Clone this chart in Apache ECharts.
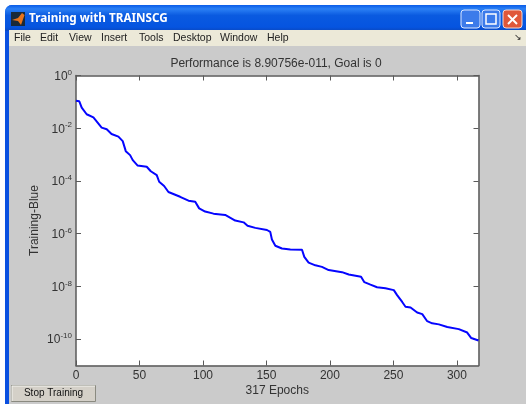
<!DOCTYPE html>
<html><head><meta charset="utf-8">
<style>html,body{margin:0;padding:0;background:#fff}#c{width:526px;height:404px}</style>
<script src="https://cdn.jsdelivr.net/npm/echarts@6/dist/echarts.min.js"></script>
</head><body><div id="c"></div>
<script>
const epochs = [0,2.6,4.5,8.4,13.7,20.2,24.2,28,33.4,36.8,39.2,42.6,44.7,48.4,55.7,58.9,63.6,65.5,69.4,72.8,82,88.6,93.9,97,101.7,108.3,117.5,125.4,132,135.1,141.2,150.4,153,154.3,157,162.2,168.8,178,179.8,183.2,188.5,193.7,199,209.5,214.8,224.5,227.1,231.9,237.1,243.7,250.3,252.9,256.9,259.5,263.5,268.7,272.7,276.6,280.5,285.8,292.4,301.5,308.1,311.3,317];
const performance_ = [1.11e-1,1.05e-1,6.03e-2,3.39e-2,2.57e-2,1.05e-2,9.12e-3,6.03e-3,4.79e-3,3.24e-3,1.35e-3,9.55e-4,6.17e-4,3.89e-4,3.47e-4,2.34e-4,1.66e-4,9.33e-5,6.46e-5,3.80e-5,2.51e-5,1.78e-5,1.62e-5,9.12e-6,6.92e-6,5.75e-6,5.13e-6,3.16e-6,2.69e-6,2.00e-6,1.66e-6,1.38e-6,1.17e-6,6.03e-7,3.47e-7,2.75e-7,2.51e-7,2.45e-7,1.32e-7,7.94e-8,6.31e-8,5.50e-8,4.17e-8,3.47e-8,2.82e-8,2.34e-8,1.45e-8,1.17e-8,9.33e-9,8.51e-9,7.24e-9,4.68e-9,2.57e-9,1.70e-9,1.58e-9,1.02e-9,8.91e-10,4.79e-10,3.98e-10,3.63e-10,2.88e-10,2.40e-10,1.78e-10,1.10e-10,8.91e-11];
const xTicks = [0,50,100,150,200,250,300];
const yTicks = [1e-10,1e-8,1e-6,1e-4,1e-2,1];
const menus = [["File",14],["Edit",40],["View",69],["Insert",101],["Tools",139],["Desktop",173],["Window",220],["Help",267]];
const spine = '#5a5a5a';
const font = '"Liberation Sans",Arial,sans-serif';
const expLabel = v => { const e = Math.round(Math.log10(v)); return '{b|10}{s|' + e + '}'; };
const chart = echarts.init(document.getElementById('c'), null, {renderer:'canvas'});
const txt = (x,y,t,style) => ({type:'text',x,y,silent:true,style:Object.assign({text:t,font:'11px '+font,fill:'#333',textVerticalAlign:'middle'},style)});
const chromeBack = [
  {type:'rect',shape:{x:5,y:5,width:530,height:410,r:[7,7,0,0]},style:{fill:'#0A50E0'}},
  {type:'rect',shape:{x:5,y:5,width:530,height:26,r:[7,7,0,0]},style:{fill:new echarts.graphic.LinearGradient(0,0,0,1,[{offset:0,color:'#0A5CE8'},{offset:.15,color:'#2B80F5'},{offset:.4,color:'#0A5AE0'},{offset:.85,color:'#0554E0'},{offset:1,color:'#0A48C0'}])}},
  {type:'rect',shape:{x:9,y:30,width:520,height:16},style:{fill:'#ECE9D8'}},
  {type:'rect',shape:{x:9,y:46,width:520,height:360},style:{fill:'#CBCBCB'}},
  {type:'rect',shape:{x:11,y:12,width:14,height:14},style:{fill:'#1a2a3a'}},
  {type:'polygon',shape:{points:[[12,20],[18,21],[21,25],[24.5,15],[22,13],[18,18]]},style:{fill:'#E8741C'}},
  txt(29,19,'Training with TRAINSCG',{font:'bold 11.7px "Noto Sans",sans-serif',fill:'#fff'}),
  {type:'rect',shape:{x:461,y:10,width:19,height:18,r:3},style:{fill:'#3C7BEA',stroke:'#DCE8FF',lineWidth:1}},
  {type:'rect',shape:{x:466,y:22,width:7,height:2},style:{fill:'#fff'}},
  {type:'rect',shape:{x:482,y:10,width:18,height:18,r:3},style:{fill:'#3C7BEA',stroke:'#DCE8FF',lineWidth:1}},
  {type:'rect',shape:{x:486,y:14,width:10,height:10},style:{fill:'none',stroke:'#fff',lineWidth:1.5}},
  {type:'rect',shape:{x:503,y:10,width:19,height:18,r:3},style:{fill:'#E0583A',stroke:'#F5D8D0',lineWidth:1}},
  {type:'polyline',shape:{points:[[508,15],[517,24]]},style:{stroke:'#fff',lineWidth:2}},
  {type:'polyline',shape:{points:[[517,15],[508,24]]},style:{stroke:'#fff',lineWidth:2}},
  ...menus.map(m => txt(m[1],38,m[0],{font:'10.5px "Liberation Sans",sans-serif',fill:'#222'})),
  txt(514,38,'↘',{font:'9px sans-serif',fill:'#222'}),
  {type:'rect',shape:{x:11.5,y:385.5,width:84,height:16},style:{fill:'#D4D0C8',stroke:'#8a8a80',lineWidth:1}},
  {type:'polyline',shape:{points:[[12,401],[12,386],[95,386]]},style:{stroke:'#f4f4f0',lineWidth:1,fill:'none'}},
  txt(53.5,393.5,'Stop Training',{font:'10px '+font,fill:'#111',textAlign:'center'})
];
chart.setOption({
  animation:false,
  backgroundColor:'#fff',
  title:{text:'Performance is 8.90756e-011, Goal is 0',left:271,top:52,textAlign:'center',textStyle:{fontFamily:font,fontSize:12,fontWeight:'normal',color:'#333',lineHeight:14}},
  grid:{left:76,right:47.5,top:75.5,bottom:38.5,outerBoundsMode:'none',backgroundColor:'#fff',show:true,borderWidth:0},
  graphic:{elements:chromeBack.map(e => Object.assign({z:-10,zlevel:0},e))},
  xAxis:[
    {type:'value',min:0,max:317,position:'bottom',name:'317 Epochs',nameLocation:'middle',nameGap:19.5,nameMoveOverlap:false,
     nameTextStyle:{fontFamily:font,fontSize:12,color:'#333'},
     axisLine:{onZero:false,lineStyle:{color:spine,width:1.5}},splitLine:{show:false},
     axisTick:{inside:true,length:5,lineStyle:{color:spine},customValues:xTicks},
     axisLabel:{customValues:xTicks,fontFamily:font,fontSize:12,color:'#333',margin:4,showMinLabel:true,showMaxLabel:true,hideOverlap:false}},
    {type:'value',min:0,max:317,position:'top',
     axisLine:{onZero:false,lineStyle:{color:spine,width:1.5}},splitLine:{show:false},
     axisTick:{inside:true,length:5,lineStyle:{color:spine},customValues:xTicks},
     axisLabel:{show:false}}
  ],
  yAxis:[
    {type:'log',logBase:10,min:1e-11,max:1,position:'left',name:'Training-Blue',nameLocation:'middle',nameGap:35,nameMoveOverlap:false,
     nameTextStyle:{fontFamily:font,fontSize:12,color:'#333'},
     axisLine:{onZero:false,lineStyle:{color:spine,width:1.5}},splitLine:{show:false},minorTick:{show:false},
     axisTick:{inside:true,length:5,lineStyle:{color:spine},customValues:yTicks},
     axisLabel:{customValues:yTicks,formatter:expLabel,margin:4,hideOverlap:false,
       rich:{b:{fontFamily:font,fontSize:12,color:'#333',verticalAlign:'bottom',lineHeight:14},
             s:{fontFamily:font,fontSize:8,color:'#333',verticalAlign:'top',padding:[0,0,7,0],lineHeight:10}}}},
    {type:'log',logBase:10,min:1e-11,max:1,position:'right',
     axisLine:{onZero:false,lineStyle:{color:spine,width:1.5}},splitLine:{show:false},minorTick:{show:false},
     axisTick:{inside:true,length:5,lineStyle:{color:spine},customValues:yTicks},
     axisLabel:{show:false}}
  ],
  series:[{type:'line',xAxisIndex:0,yAxisIndex:0,showSymbol:false,clip:true,
    lineStyle:{color:'#0505ff',width:2},
    data:epochs.map((e,i)=>[e,performance_[i]])}]
});
</script></body></html>
